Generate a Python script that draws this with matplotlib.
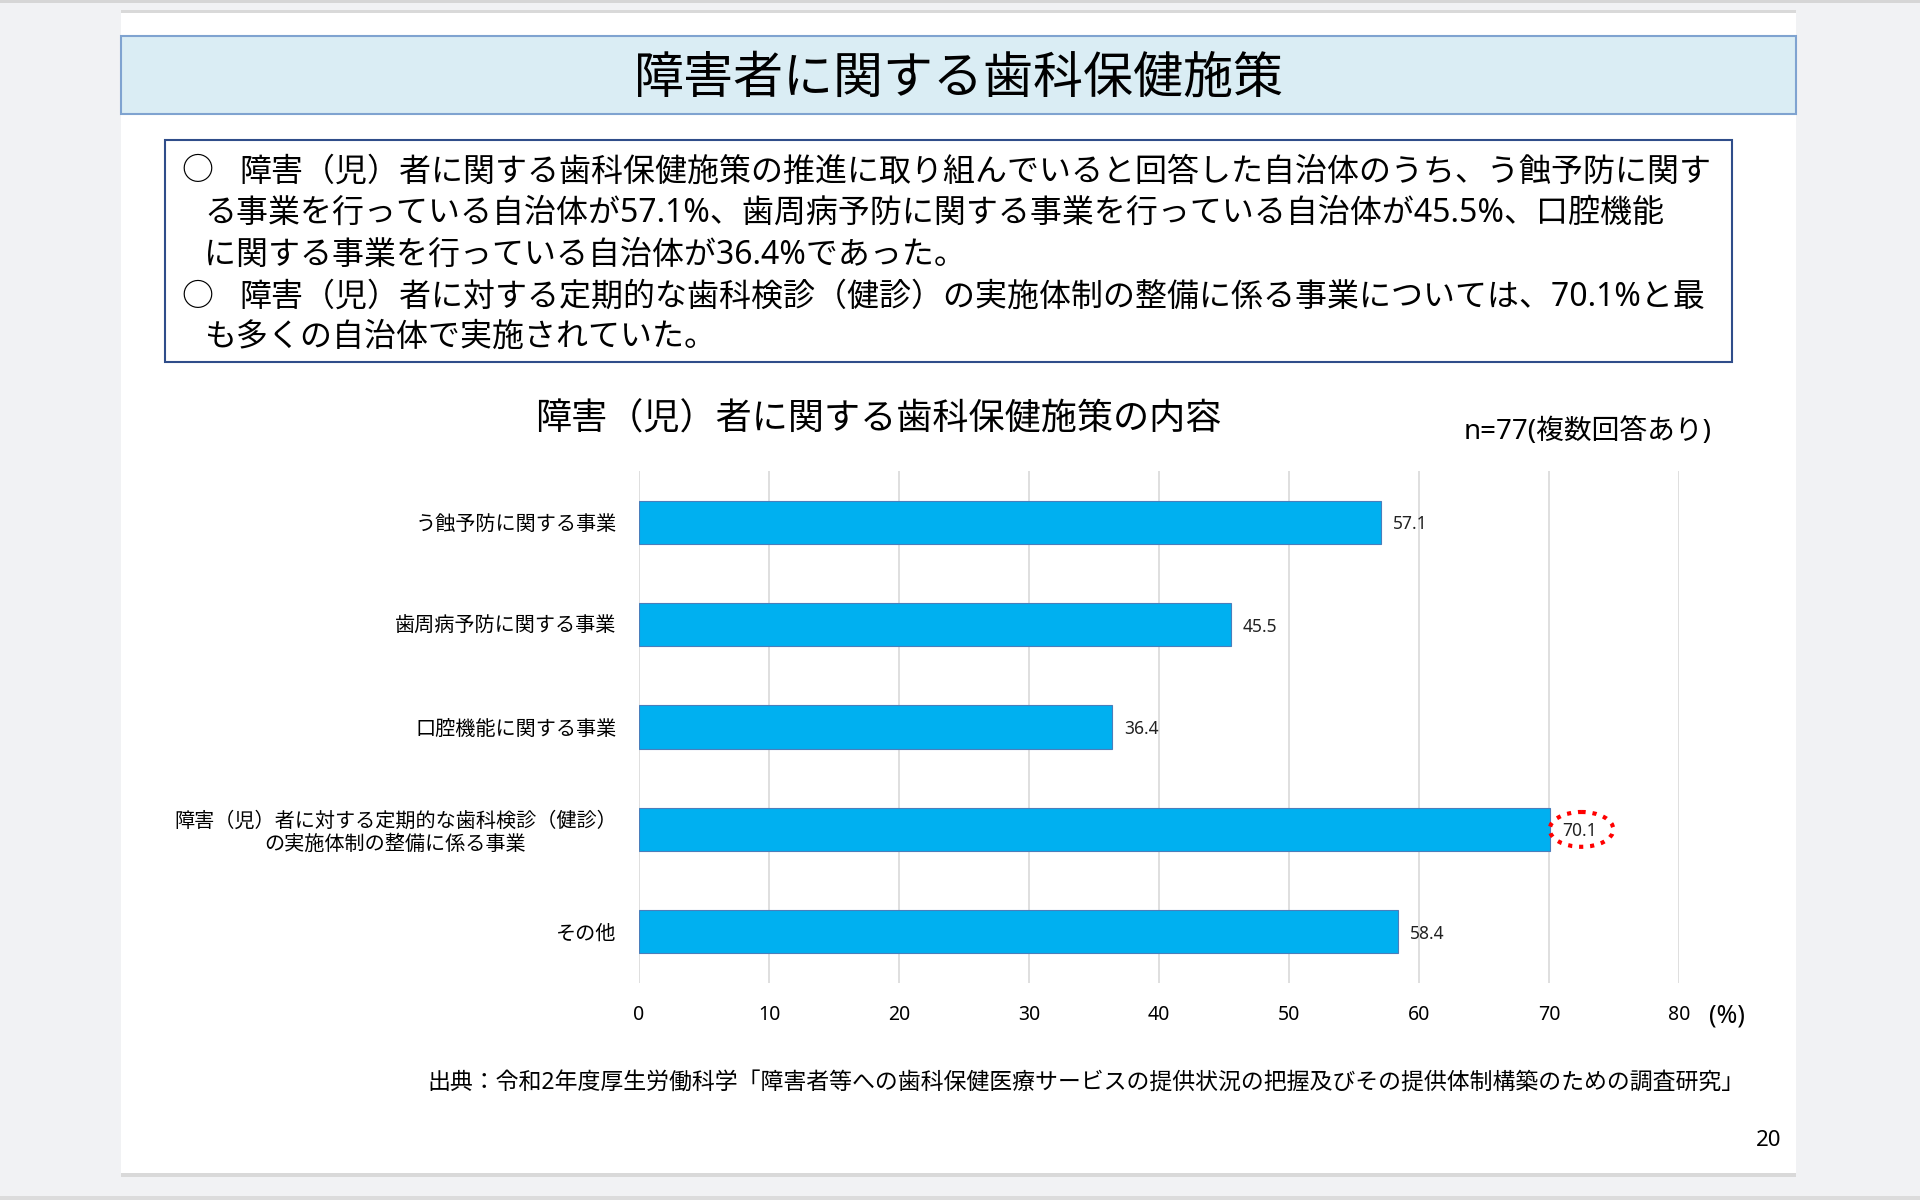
import matplotlib
matplotlib.use('Agg')
import matplotlib.pyplot as plt
from matplotlib.patches import Rectangle, Ellipse

# latin glyphs from Noto Sans, Japanese from the CJK family
plt.rcParams['font.family'] = ['Noto Sans', 'Noto Sans CJK JP', 'DejaVu Sans']

#%% data
categories = ['う蝕予防に関する事業',
              '歯周病予防に関する事業',
              '口腔機能に関する事業',
              '障害（児）者に対する定期的な歯科検診（健診）\nの実施体制の整備に係る事業',
              'その他']
values = [57.1, 45.5, 36.4, 70.1, 58.4]
xticks = [0, 10, 20, 30, 40, 50, 60, 70, 80]
highlight = 3   # index circled in red

page_title = '障害者に関する歯科保健施策'
chart_title = '障害（児）者に関する歯科保健施策の内容'
n_note = 'n=77(複数回答あり)'
source = '出典：令和2年度厚生労働科学「障害者等への歯科保健医療サービスの提供状況の把握及びその提供体制構築のための調査研究」'
summary = [('○', '障害（児）者に関する歯科保健施策の推進に取り組んでいると回答した自治体のうち、う蝕予防に関す'),
           ('', 'る事業を行っている自治体が57.1%、歯周病予防に関する事業を行っている自治体が45.5%、口腔機能'),
           ('', 'に関する事業を行っている自治体が36.4%であった。'),
           ('○', '障害（児）者に対する定期的な歯科検診（健診）の実施体制の整備に係る事業については、70.1%と最'),
           ('', 'も多くの自治体で実施されていた。')]

#%% page
W, H = 1920, 1200
fig = plt.figure(figsize=(19.2, 12), dpi=100)
fig.patch.set_facecolor('#f1f2f4')

def box(x0, y0, x1, y1, **kw):
    # pixel coords, origin top-left; kept under the axes
    fig.add_artist(Rectangle((x0/W, 1-y1/H), (x1-x0)/W, (y1-y0)/H,
                             transform=fig.transFigure, zorder=-10, **kw))

def txt(x, y, s, **kw):
    fig.text(x/W, 1-y/H, s, **kw)

box(0, 0, W, 3, facecolor='#d6d6d6', edgecolor='none')
box(121, 10, 1796, 1177, facecolor='#d9d9d9', edgecolor='none')
box(121, 13, 1796, 1173, facecolor='white', edgecolor='none')
box(0, 1196, W, 1200, facecolor='#dcdcdc', edgecolor='none')

# title band
box(121, 36, 1796, 114, facecolor='#daedf4', edgecolor='#7fa3d0', lw=1.5)
txt(959, 80, page_title, fontsize=36, ha='center', va='center')

# summary box
box(165, 140, 1732, 362, facecolor='white', edgecolor='#2f4d8a', lw=1.5)
ys = [172, 213, 255, 297, 337]
for (mark, line), y in zip(summary, ys):
    if mark:
        txt(197, y, mark, fontsize=23, ha='center', va='center')
        txt(239, y, line, fontsize=23, ha='left', va='center')
    else:
        txt(204, y, line, fontsize=23, ha='left', va='center')

txt(878, 421, chart_title, fontsize=26, ha='center', va='center')
txt(1712, 432, n_note, fontsize=20, ha='right', va='center')

#%% chart
ax = fig.add_axes([639/W, 1-983/H, 1040/W, 512/H])
ax.set_facecolor('none')
pos = list(range(len(categories)))
ax.barh(pos, values, height=0.42, color='#00b0f0', edgecolor='#4a7ebb', lw=0.8, zorder=3)
for i, v in zip(pos, values):
    ax.annotate(f'{v}', xy=(v, i), xytext=(8.5, -1.5), textcoords='offset points',
                va='center', ha='left', fontsize=12.5, color='#222222', zorder=5)
ax.add_patch(Ellipse((values[highlight] + 2.4, highlight), 4.9, 0.34, fill=False,
                     ec='red', ls=':', lw=3, zorder=4))

ax.set_xlim(0, 80)
ax.set_ylim(len(categories) - 0.5, -0.5)
ax.set_xticks(xticks)
ax.set_xticklabels([str(t) for t in xticks], fontsize=14)
ax.set_yticks(pos)
ax.set_yticklabels(categories, fontsize=14.5, multialignment='center')
ax.tick_params(axis='both', length=0)
ax.tick_params(axis='x', pad=16)
ax.tick_params(axis='y', pad=16)
ax.grid(axis='x', color='#d9d9d9', lw=1.2, zorder=0)
for s in ax.spines.values():
    s.set_visible(False)

txt(1727, 1016, '(%)', fontsize=18, ha='center', va='center')
txt(1745, 1084, source, fontsize=16.5, ha='right', va='center')
txt(1769, 1141, '20', fontsize=16, ha='center', va='center')

fig.savefig('out.png', dpi=100)
